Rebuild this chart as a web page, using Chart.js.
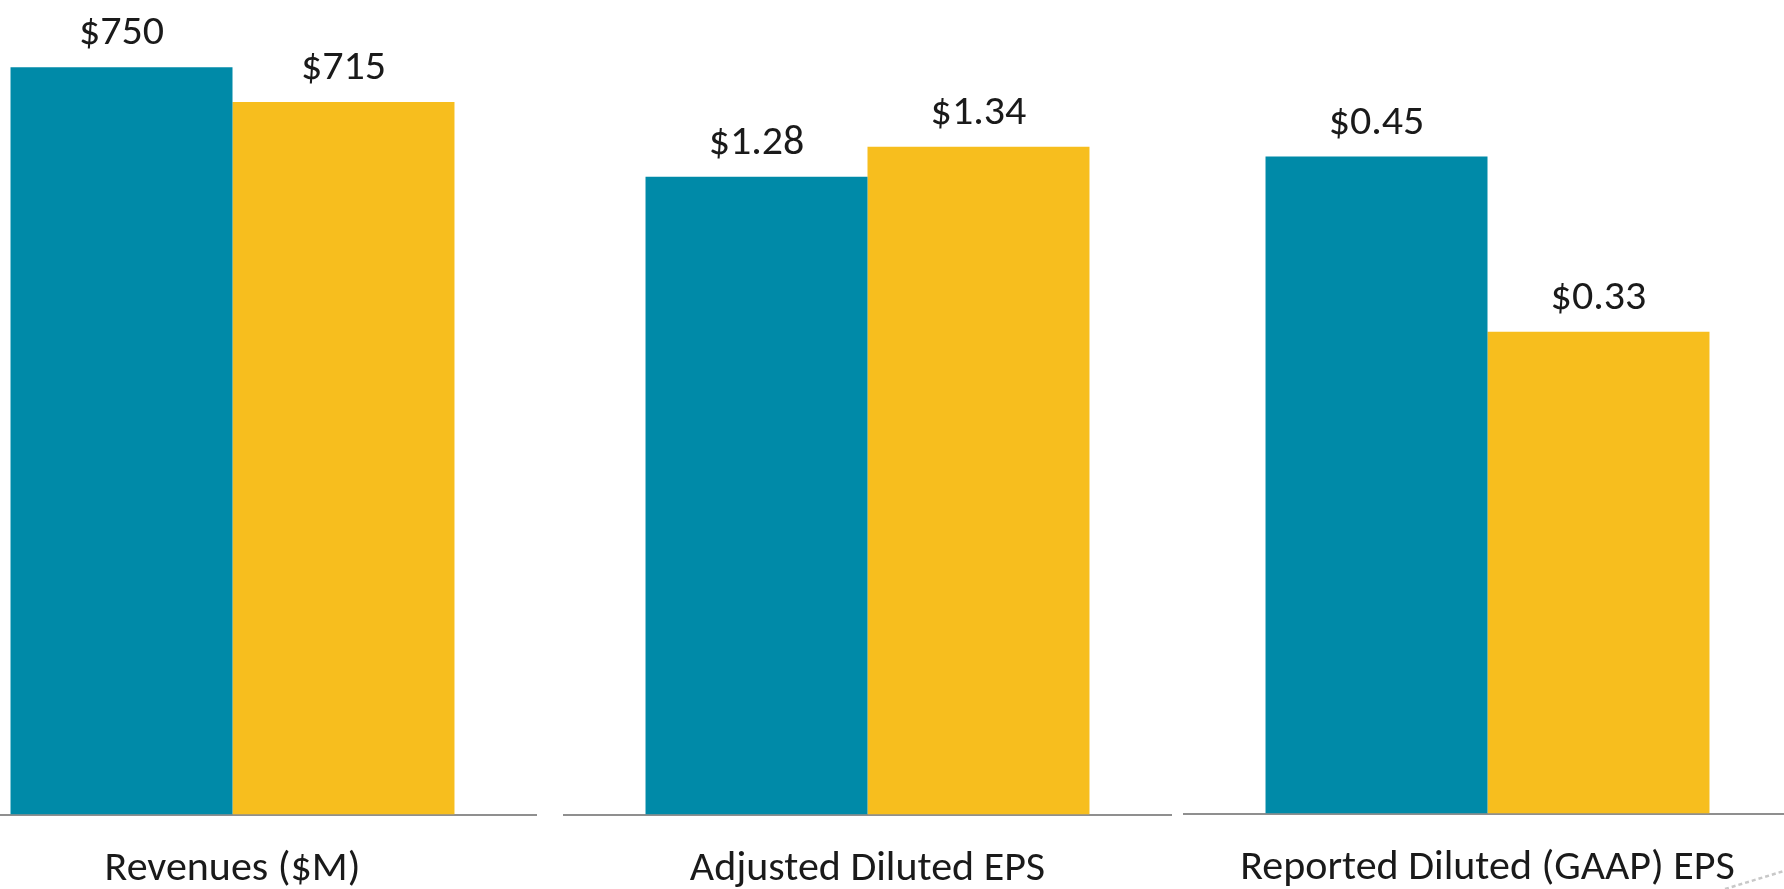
<!DOCTYPE html>
<html>
<head>
<meta charset="utf-8">
<script src="https://cdn.jsdelivr.net/npm/chart.js@4.4.1/dist/chart.umd.min.js"></script>
<style>
  html, body { margin: 0; padding: 0; background: #fff; overflow: hidden; }
  #wrap { position: relative; width: 1784px; height: 889px; overflow: hidden; }
  .panel { position: absolute; top: 0; width: 609px; height: 925px; }
  #deco { position: absolute; left: 0; top: 0; }
</style>
</head>
<body>
<div id="wrap">
  <div class="panel" style="left:-72px"><canvas id="c0" width="609" height="925"></canvas></div>
  <div class="panel" style="left:563px"><canvas id="c1" width="609" height="925"></canvas></div>
  <div class="panel" style="left:1183px; top:-1px"><canvas id="c2" width="609" height="925"></canvas></div>
  <svg id="deco" width="1784" height="889">
    <line x1="1725" y1="889" x2="1784" y2="871" stroke="#c8c8c8" stroke-width="2.5" stroke-dasharray="4 3"/>
  </svg>
</div>
<script>
// Data

const categories = ["Revenues ($M)", "Adjusted Diluted EPS", "Reported Diluted (GAAP) EPS"];
const priorValues = [750, 1.28, 0.45];
const currentValues = [715, 1.34, 0.33];
const decimals = [0, 2, 2];
const axisMax = [817.4, 1.6345, 0.5579];

const teal = "#008aa8";
const gold = "#f7be1e";
const textColor = "#1a1a1a";
const fontFamily = "Carlito, Calibri, Lato, sans-serif";

// Value labels above bars

const valueLabels = {
    id: "valueLabels",
    afterDatasetsDraw(chart, args, opts) {
        const ctx = chart.ctx;
        ctx.save();
        ctx.font = `42px ${fontFamily}`;
        ctx.fillStyle = textColor;
        ctx.textAlign = "center";
        ctx.textBaseline = "alphabetic";
        chart.data.datasets.forEach((ds, i) => {
            chart.getDatasetMeta(i).data.forEach((bar, j) => {
                const text = "$" + ds.data[j].toFixed(opts.decimals);
                ctx.fillText(text, bar.x, bar.y - 23);
            });
        });
        ctx.restore();
    }
};

// One chart per metric, each with its own scale

categories.forEach((label, i) => {
    new Chart(document.getElementById("c" + i), {
        type: "bar",
        data: {
            labels: [label],
            datasets: [
                { data: [priorValues[i]], backgroundColor: teal, borderWidth: 0 },
                { data: [currentValues[i]], backgroundColor: gold, borderWidth: 0 }
            ]
        },
        options: {
            responsive: false,
            animation: false,
            devicePixelRatio: 1,
            categoryPercentage: 0.729,
            barPercentage: 1,
            layout: { padding: 0 },
            plugins: {
                legend: { display: false },
                tooltip: { enabled: false },
                valueLabels: { decimals: decimals[i] }
            },
            scales: {
                x: {
                    grid: { display: false, drawTicks: false },
                    border: { display: true, color: "#8f8f8f", width: 2 },
                    ticks: {
                        color: textColor,
                        padding: 30,
                        font: { family: fontFamily, size: 42 }
                    }
                },
                y: {
                    display: false,
                    min: 0,
                    max: axisMax[i]
                }
            }
        },
        plugins: [valueLabels]
    });
});
</script>
</body>
</html>
